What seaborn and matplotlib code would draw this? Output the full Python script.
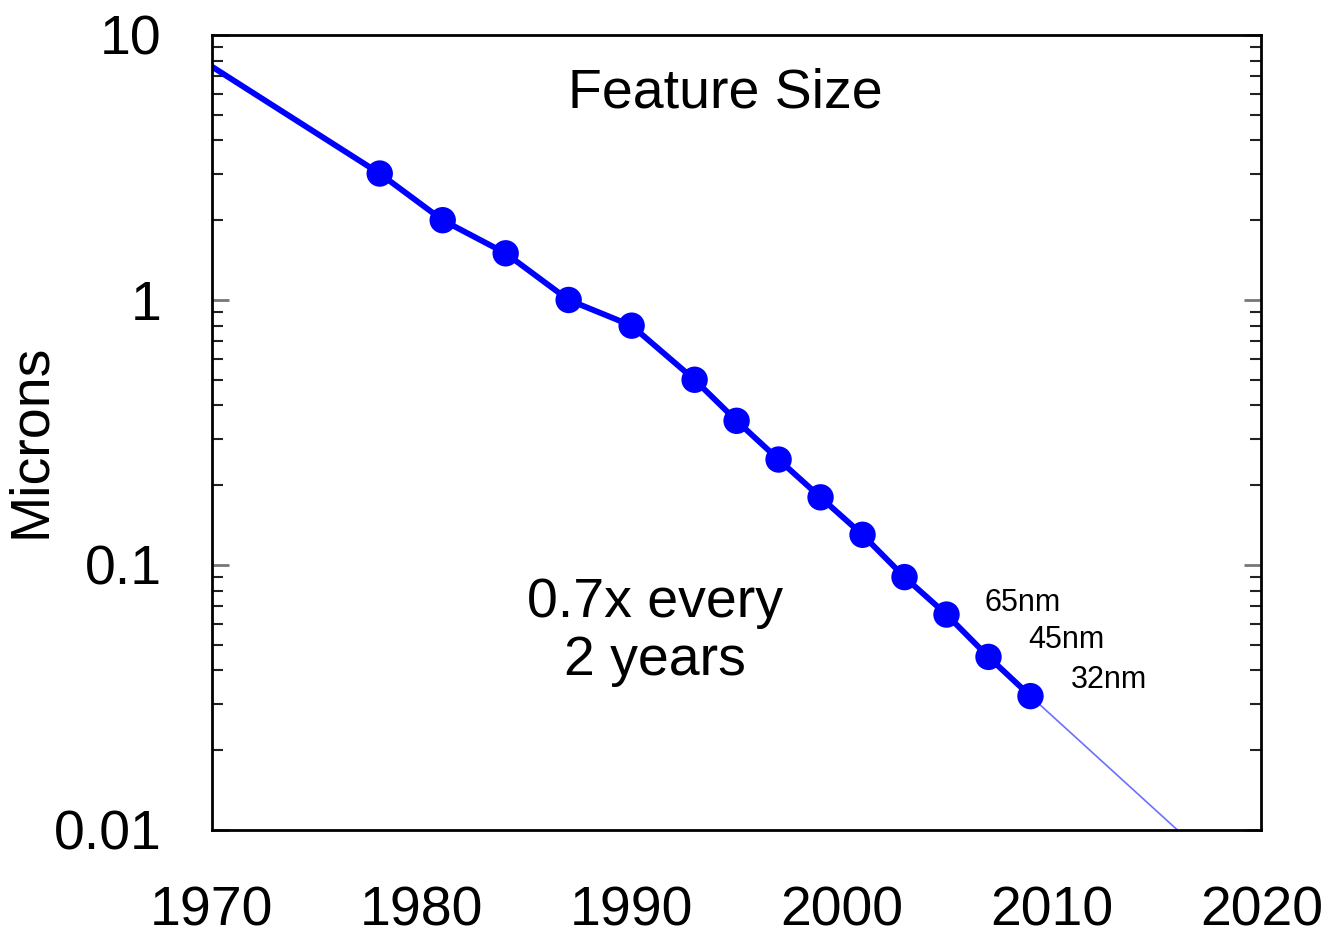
import numpy as np
import pandas as pd
import seaborn as sns
import matplotlib.pyplot as plt
from matplotlib.ticker import FixedLocator, FixedFormatter, LogLocator, NullFormatter

# data
years = [1978, 1981, 1984, 1987, 1990, 1993, 1995, 1997, 1999, 2001, 2003, 2005, 2007, 2009]
microns = [3.0, 2.0, 1.5, 1.0, 0.8, 0.5, 0.35, 0.25, 0.18, 0.13, 0.09, 0.065, 0.045, 0.032]

trend_years = [1970] + years
trend_microns = [7.6] + microns

extrap_years = [2009, 2016]
extrap_microns = [0.032, 0.01]

node_labels = ["65nm", "45nm", "32nm"]

y_ticks = [0.01, 0.1, 1, 10]
y_tick_labels = ["0.01", "0.1", "1", "10"]
x_ticks = [1970, 1980, 1990, 2000, 2010, 2020]

sns.set_style("white")
plt.rcParams["font.family"] = ["Liberation Sans", "DejaVu Sans"]
plt.rcParams["text.color"] = "black"
plt.rcParams["axes.labelcolor"] = "black"
plt.rcParams["xtick.labelcolor"] = "black"
plt.rcParams["ytick.labelcolor"] = "black"

df_pts = pd.DataFrame({"year": years, "microns": microns})
df_trend = pd.DataFrame({"year": trend_years, "microns": trend_microns})
df_ext = pd.DataFrame({"year": extrap_years, "microns": extrap_microns})

fig = plt.figure(figsize=(13.32, 9.35), dpi=100)
ax = fig.add_axes([0.159, 0.1123, 0.788, 0.8503])
ax.set_yscale("log")

sns.lineplot(data=df_ext, x="year", y="microns", ax=ax, color="#6f6fff", linewidth=1.2)
sns.lineplot(data=df_trend, x="year", y="microns", ax=ax, color="#0000ff", linewidth=4.2)
sns.scatterplot(data=df_pts, x="year", y="microns", ax=ax, color="#0000ff",
                s=19 ** 2, edgecolor="none", zorder=5)

ax.set_xlim(1970, 2020)
ax.set_ylim(0.01, 10)

ax.xaxis.set_major_locator(FixedLocator(x_ticks))
ax.yaxis.set_major_locator(FixedLocator(y_ticks))
ax.yaxis.set_major_formatter(FixedFormatter(y_tick_labels))
ax.yaxis.set_minor_locator(LogLocator(base=10, subs=np.arange(2, 10)))
ax.yaxis.set_minor_formatter(NullFormatter())

ax.tick_params(axis="x", which="major", direction="in", length=12, width=2,
               color="#555555", labelsize=40, pad=40, top=False)
ax.tick_params(axis="y", which="major", direction="in", length=12, width=2,
               color="#777777", labelsize=40, pad=36, left=True, right=True)
ax.tick_params(axis="y", which="minor", direction="in", length=8, width=1.5,
               color="#222222", left=True, right=True)

for sp in ax.spines.values():
    sp.set_linewidth(2)
    sp.set_color("black")

ax.set_xlabel("")
ax.set_ylabel("Microns", fontsize=40)
ax.yaxis.set_label_coords(-0.147, 0.49)

ax.text(0.489, 0.927, "Feature Size", transform=ax.transAxes, fontsize=40,
        ha="center", va="center")
ax.text(0.422, 0.249, "0.7x every\n2 years", transform=ax.transAxes, fontsize=40,
        ha="center", va="center", linespacing=1.15)

ax.text(2006.8, 0.072, node_labels[0], fontsize=22, ha="left", va="center")
ax.text(2008.9, 0.052, node_labels[1], fontsize=22, ha="left", va="center")
ax.text(2010.9, 0.0368, node_labels[2], fontsize=22, ha="left", va="center")

fig.savefig("out.png", dpi=100)
